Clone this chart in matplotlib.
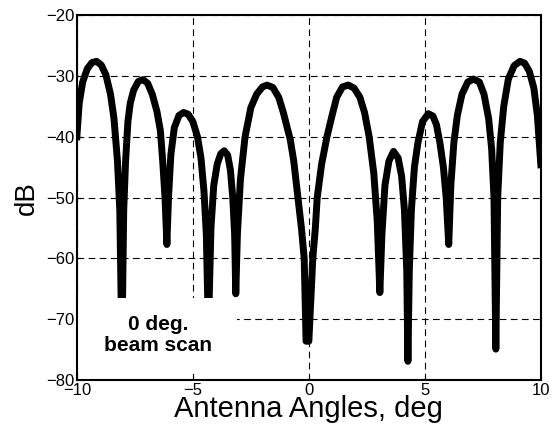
import matplotlib
matplotlib.use("Agg")
import matplotlib.pyplot as plt
from matplotlib.patches import Rectangle

plt.rcParams['font.family'] = ['Liberation Sans', 'DejaVu Sans']

# antenna pattern (angle in deg, level in dB)
angle = [-10.0, -9.9, -9.75, -9.55, -9.35, -9.15, -8.95, -8.75, -8.55, -8.4,
         -8.25, -8.15, -8.06, -7.98, -7.9, -7.8, -7.7, -7.55, -7.35, -7.15,
         -6.95, -6.75, -6.55, -6.4, -6.3, -6.2, -6.12, -6.05, -5.95, -5.8,
         -5.6, -5.4, -5.2, -5.0, -4.8, -4.65, -4.52, -4.42, -4.33, -4.22,
         -4.1, -3.95, -3.8, -3.65, -3.5, -3.38, -3.28, -3.2, -3.15, -3.08,
         -2.95, -2.75, -2.5, -2.25, -2.0, -1.8, -1.55, -1.3, -1.1, -0.9,
         -0.8, -0.65, -0.47, -0.32, -0.2, -0.12, 0.0, 0.17, 0.28, 0.36,
         0.55, 0.78, 1.0, 1.2, 1.45, 1.7, 1.95, 2.2, 2.4, 2.6, 2.8,
         2.95, 3.06, 3.15, 3.28, 3.45, 3.65, 3.85, 4.0, 4.12, 4.22,
         4.27, 4.33, 4.42, 4.55, 4.7, 4.9, 5.15, 5.35, 5.5, 5.65,
         5.8, 5.92, 6.03, 6.12, 6.25, 6.4, 6.6, 6.85, 7.1, 7.35,
         7.55, 7.75, 7.88, 7.98, 8.06, 8.14, 8.25, 8.4, 8.6, 8.85,
         9.1, 9.3, 9.5, 9.7, 9.85, 10.0]
level = [-40.0, -34.5, -31.0, -28.8, -27.8, -27.6, -28.2, -29.8, -33.0, -37.0,
         -44.0, -52.0, -75.0, -52.0, -44.0, -37.5, -34.5, -32.3, -30.9, -30.6,
         -31.2, -33.0, -35.8, -39.0, -44.0, -50.0, -57.7, -50.0, -43.0, -38.5,
         -36.5, -36.0, -36.3, -37.5, -40.0, -43.5, -49.0, -56.0, -72.0, -55.0,
         -48.0, -44.5, -42.8, -42.3, -43.0, -45.5, -50.0, -56.0, -65.8, -56.0,
         -47.0, -40.0, -35.2, -33.0, -31.8, -31.5, -31.9, -33.5, -36.0, -39.0,
         -40.5, -44.0, -50.0, -55.0, -60.0, -73.6, -73.6, -60.0, -55.0, -50.0,
         -44.5, -40.0, -36.5, -33.5, -31.8, -31.5, -32.0, -33.5, -36.0, -40.0, -46.0,
         -54.0, -65.6, -56.0, -48.0, -44.0, -42.4, -43.5, -46.5, -52.0, -62.0,
         -76.9, -62.0, -52.0, -45.0, -41.0, -37.5, -36.2, -36.6, -38.0, -41.0,
         -45.0, -50.0, -57.7, -48.0, -41.0, -36.5, -33.0, -31.0, -30.5, -31.0,
         -33.0, -37.0, -42.0, -50.0, -74.9, -50.0, -41.0, -35.0, -30.5, -28.3,
         -27.6, -27.9, -29.2, -32.0, -36.5, -44.6]

xticks = [-10, -5, 0, 5, 10]
yticks = [-80, -70, -60, -50, -40, -30, -20]

fig = plt.figure(figsize=(5.53, 4.32), dpi=100)
ax = fig.add_axes([0.139, 0.12, 0.839, 0.845])

ax.plot(angle, level, color='black', lw=5, solid_joinstyle='round', zorder=3)

ax.set_xlim(-10, 10)
ax.set_ylim(-80, -20)
ax.set_xticks(xticks)
ax.set_yticks(yticks)
ax.grid(True, color='black', lw=0.8, linestyle=(0, (6, 4)))
ax.tick_params(direction='in', length=3, labelsize=12, pad=2)
for s in ax.spines.values():
    s.set_linewidth(1.5)
    s.set_zorder(6)

ax.set_xlabel('Antenna Angles, deg', fontsize=21, labelpad=-2)
ax.set_ylabel('dB', fontsize=20, labelpad=4)

# white box behind the annotation (covers the deep nulls)
ax.add_patch(Rectangle((0.0, 0.022), 0.345, 0.202, transform=ax.transAxes,
                       facecolor='white', edgecolor='none', zorder=4))
ax.text(0.175, 0.123, '0 deg.\nbeam scan', transform=ax.transAxes,
        ha='center', va='center', fontsize=15, fontweight='bold',
        linespacing=1.15, zorder=5)

fig.savefig('out.png', dpi=100)
